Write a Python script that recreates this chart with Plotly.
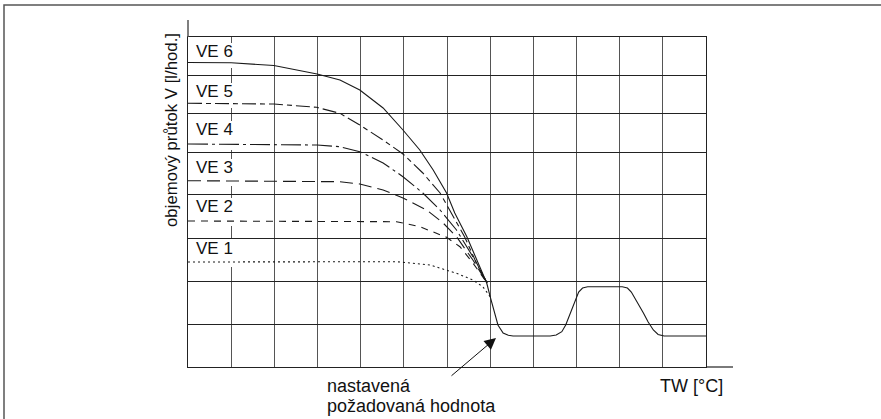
import plotly.graph_objects as go

# ---- data (x in grid columns, y in chart units) ----
ve6_x = [0, 1.0, 1.99, 2.99, 3.52, 3.98, 4.52, 4.98, 5.37, 5.68, 5.99, 6.18, 6.46, 6.69, 6.92, 7.0, 7.11, 7.18,
         7.30, 7.42, 7.53, 8.39, 8.53, 8.66, 8.75, 8.85, 8.96, 9.05, 9.14, 9.26, 10.06, 10.18, 10.27, 10.41, 10.55,
         10.66, 10.78, 10.89, 11.03, 12.0]
ve6_y = [304.5, 304.2, 301.5, 293, 287, 277, 259, 237, 217, 197, 174, 154, 130.3, 107, 84, 70.3, 54, 42,
         34, 31.7, 31, 31, 32, 35.3, 42, 53, 65.3, 75, 79, 80.3, 80.3, 79, 75, 65, 54,
         45, 37, 32.5, 31, 31]

ve5_x = [0, 1.99, 2.98, 3.52, 3.98, 4.52, 4.98, 5.44, 5.84, 6.12, 6.41, 6.65, 6.93]
ve5_y = [263.7, 263, 259.7, 253.7, 242, 227, 213, 194, 174, 152, 130, 107, 84]

ve4_x = [0, 1.99, 2.99, 3.52, 3.98, 4.52, 4.98, 5.44, 5.84, 6.22, 6.60, 6.93]
ve4_y = [223, 222.5, 222, 220.3, 215.3, 204, 190.3, 174, 157, 137, 110.3, 84]

ve3_x = [0, 2.99, 3.52, 3.98, 4.52, 4.98, 5.53, 5.91, 6.22, 6.60, 6.93]
ve3_y = [186.3, 186, 185.3, 183, 177, 169, 157, 144, 130.3, 107, 84]

ve2_x = [0, 4.83, 5.37, 5.99, 6.30, 6.60, 6.93]
ve2_y = [146, 145.3, 140.3, 129.7, 120.3, 104, 84]

ve1_x = [0, 4.83, 5.61, 6.22, 6.60, 6.83, 7.0]
ve1_y = [105, 105.3, 102, 93.7, 87, 80.3, 70.3]

series_names = ["VE 6", "VE 5", "VE 4", "VE 3", "VE 2", "VE 1"]
label_y = [316, 276, 237.5, 199.5, 160.5, 119]          # label centres
box_y = [(299, 324), (259, 284), (217, 246), (181, 208), (141, 169), (100, 128)]

x_grid = list(range(13))
y_grid = [0, 43, 86, 129, 173, 215, 254, 292, 330]

x_title = "TW [°C]"
y_title = "objemový průtok V [l/hod.]"
note_lines = ["nastavená", "požadovaná hodnota"]

# ---- figure ----
LC = "#1a1a1a"
FONT = "Liberation Sans, Arial, Helvetica, sans-serif"
fig = go.Figure()

styles = [
    (ve6_x, ve6_y, "solid"),
    (ve5_x, ve5_y, "14px,4px,5px,4px"),
    (ve4_x, ve4_y, "20px,4px,3px,4px"),
    (ve3_x, ve3_y, "13px,6px"),
    (ve2_x, ve2_y, "7px,6px"),
    (ve1_x, ve1_y, "2px,3px"),
]
for (xs, ys, dash), name in zip(styles, series_names):
    fig.add_trace(go.Scatter(x=xs, y=ys, mode="lines", name=name,
                             line=dict(color=LC, width=1.1, dash=dash),
                             showlegend=False, hoverinfo="skip"))

W, H = 881, 419
L, R, T, B = 188, 706, 37, 367

def px_x(p):
    return (p - L) / (R - L)

def px_y(p):
    return (B - p) / (B - T)

shapes = []
# white patches behind the VE labels (between grid and traces)
for (y0, y1) in box_y:
    shapes.append(dict(type="rect", xref="x", yref="y", x0=0.03, x1=1.25, y0=y0, y1=y1,
                       fillcolor="white", line=dict(width=0), layer="between"))
# axis extensions
shapes.append(dict(type="line", xref="paper", yref="paper", x0=0, x1=0, y0=1, y1=px_y(20),
                   line=dict(color="#555", width=1.5)))
shapes.append(dict(type="line", xref="paper", yref="paper", x0=1, x1=px_x(733), y0=0, y1=0,
                   line=dict(color="#222", width=1.2)))
# outer frame
shapes.append(dict(type="rect", xref="paper", yref="paper", x0=px_x(4), x1=px_x(895),
                   y0=px_y(430), y1=px_y(5), line=dict(color="#555", width=1.5),
                   fillcolor="rgba(0,0,0,0)", layer="above"))

annotations = []
for name, ly in zip(series_names, label_y):
    annotations.append(dict(x=0, y=ly, xref="x", yref="y", text=name, showarrow=False,
                            xanchor="left", yanchor="middle", xshift=6,
                            font=dict(family=FONT, size=17, color="#111")))
annotations.append(dict(x=px_x(658), y=px_y(386), xref="paper", yref="paper", text=x_title,
                        showarrow=False, xanchor="left", yanchor="middle",
                        font=dict(family=FONT, size=18, color="#111")))
annotations.append(dict(x=px_x(171), y=px_y(130), xref="paper", yref="paper", text=y_title,
                        showarrow=False, textangle=-90, xanchor="center", yanchor="middle",
                        font=dict(family=FONT, size=16.8, color="#111")))
annotations.append(dict(x=px_x(325), y=px_y(386), xref="paper", yref="paper", text=note_lines[0],
                        showarrow=False, xanchor="left", yanchor="middle",
                        font=dict(family=FONT, size=18, color="#111")))
annotations.append(dict(x=px_x(325), y=px_y(406), xref="paper", yref="paper", text=note_lines[1],
                        showarrow=False, xanchor="left", yanchor="middle",
                        font=dict(family=FONT, size=18, color="#111")))
# arrow
annotations.append(dict(x=px_x(496), y=px_y(338), xref="paper", yref="paper", text="",
                        showarrow=True, ax=-46, ay=39, arrowhead=2, arrowsize=2.3,
                        arrowwidth=1, arrowcolor="#111", standoff=0))

fig.update_layout(
    width=W, height=H,
    margin=dict(l=L, r=W - R, t=T, b=H - B, pad=0),
    paper_bgcolor="white", plot_bgcolor="white",
    xaxis=dict(range=[0, 12], tickvals=x_grid, showticklabels=False, ticks="",
               showgrid=True, gridcolor="#555", gridwidth=1.2, zeroline=False,
               showline=True, linecolor="#222", linewidth=1.2, mirror=True, fixedrange=True),
    yaxis=dict(range=[0, 330], tickvals=y_grid, showticklabels=False, ticks="",
               showgrid=True, gridcolor="#222", gridwidth=1, zeroline=False,
               showline=True, linecolor="#222", linewidth=1.2, mirror=True, fixedrange=True),
    shapes=shapes, annotations=annotations, showlegend=False,
)

fig.write_html("out.html", config={"displayModeBar": False},
               post_script="document.body.style.margin='0';document.body.style.overflow='hidden';")
